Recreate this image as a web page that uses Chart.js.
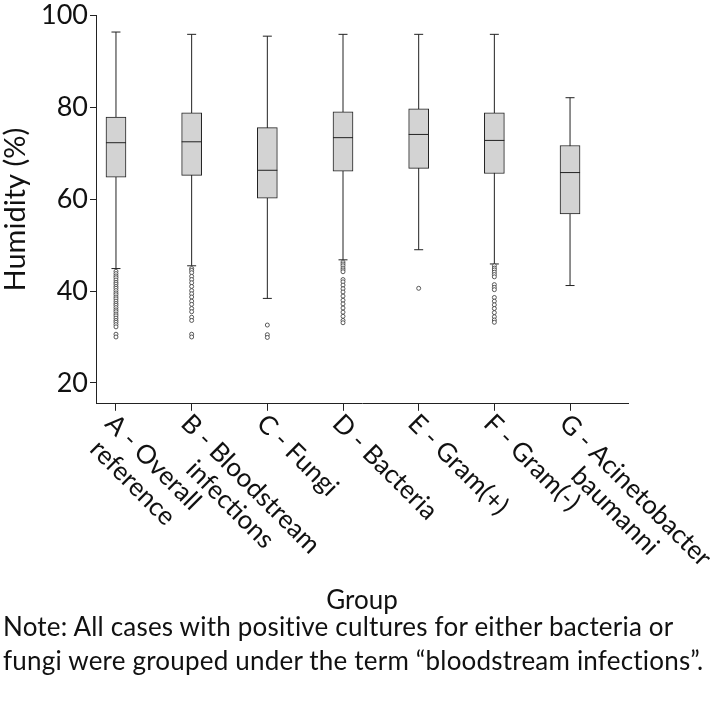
<!DOCTYPE html>
<html><head><meta charset="utf-8">
<script src="https://cdn.jsdelivr.net/npm/chart.js@4"></script>
<style>
html,body{margin:0;padding:0;background:#fff;}
#wrap{position:relative;width:715px;height:702px;overflow:hidden;}
#note{position:absolute;left:3px;top:609px;font-family:Lato,sans-serif;font-size:26px;letter-spacing:0.2px;line-height:34px;color:#111;white-space:nowrap;}
</style></head><body>
<div id="wrap"><canvas id="c" width="715" height="702"></canvas>
<div id="note">Note: All cases with positive cultures for either bacteria or<br>fungi were grouped under the term “bloodstream infections”.</div></div>
<script>
const categories = [['A - Overall','reference'],['B - Bloodstream','infections'],['C - Fungi'],['D - Bacteria'],['E - Gram(+)'],['F - Gram(-)'],['G - Acinetobacter','baumanni']];
const whiskerHigh = [96.4, 95.9, 95.5, 95.9, 95.9, 95.9, 82.1];
const q3 = [77.9, 78.8, 75.6, 79.0, 79.7, 78.8, 71.7];
const medians = [72.3, 72.5, 66.3, 73.4, 74.1, 72.8, 65.8];
const q1 = [64.8, 65.2, 60.2, 66.1, 66.7, 65.6, 56.8];
const whiskerLow = [44.9, 45.5, 38.4, 46.8, 49.0, 45.9, 41.2];
const outliersA = [44.3, 43.8, 43.3, 42.9, 42.4, 41.9, 41.5, 41.0, 40.6, 40.1, 39.6, 39.2, 38.7, 38.3, 37.8, 37.3, 36.9, 36.4, 35.9, 35.5, 35.0, 34.6, 34.1, 33.6, 33.2, 32.7, 32.2, 30.6, 30.0];
const outliersB = [44.9, 44.5, 44.0, 43.2, 42.5, 41.8, 41.0, 40.1, 39.4, 38.7, 37.8, 37.1, 36.2, 35.5, 34.3, 33.6, 30.6, 30.0];
const outliersC = [32.6, 30.5, 29.9];
const outliersD = [46.3, 45.9, 45.5, 45.0, 44.6, 44.2, 42.5, 42.0, 41.3, 40.5, 39.8, 38.9, 38.0, 37.2, 36.3, 35.4, 34.5, 33.6, 33.1];
const outliersE = [40.6];
const outliersF = [45.5, 45.0, 44.6, 44.1, 43.6, 43.1, 41.4, 40.8, 40.3, 38.6, 37.8, 37.0, 36.2, 35.3, 34.4, 33.7, 33.2];
const outliersG = [];
const outliers = [outliersA, outliersB, outliersC, outliersD, outliersE, outliersF, outliersG];
const yTicks = [20, 40, 60, 80, 100];

const idx = categories.map((_, i) => i);
const boxData = idx.map(i => ({x: i, y: [q1[i], q3[i]]}));
const whiskerData = idx.flatMap(i => [{x: i, y: whiskerLow[i]}, {x: i, y: whiskerHigh[i]}, {x: i, y: null}]);
const medianData = idx.map(i => ({x: i, y: medians[i]}));
const capData = idx.flatMap(i => [{x: i, y: whiskerLow[i]}, {x: i, y: whiskerHigh[i]}]);
const outlierData = idx.flatMap(i => outliers[i].map(v => ({x: i, y: v})));

const INK = '#222';
const labelPlugin = {
  id: 'rotLabels',
  afterDraw(chart) {
    const ctx = chart.ctx, xs = chart.scales.x, base = chart.chartArea.bottom;
    ctx.save();
    ctx.font = '26px Lato';
    ctx.fillStyle = '#111';
    ctx.textBaseline = 'top';
    ctx.textAlign = 'left';
    categories.forEach((lines, i) => {
      const px = xs.getPixelForValue(i);
      const widths = lines.map(l => ctx.measureText(l).width);
      const W = Math.max(...widths);
      ctx.save();
      ctx.translate(px + 3, base + 6);
      ctx.rotate(Math.PI / 4);
      lines.forEach((l, j) => ctx.fillText(l, (W - widths[j]) / 2, j * 29));
      ctx.restore();
    });
    ctx.restore();
  }
};

function draw() {
  new Chart(document.getElementById('c'), {
    type: 'bar',
    data: {
      datasets: [
        {type: 'line', data: whiskerData, borderColor: INK, borderWidth: 1, pointRadius: 0, spanGaps: false, fill: false, order: 4},
        {type: 'bar', data: boxData, backgroundColor: '#d3d3d3', borderColor: INK, borderWidth: 1, borderSkipped: false, barThickness: 20, grouped: false, order: 3},
        {type: 'scatter', data: medianData, pointStyle: 'line', pointRadius: 10, borderColor: INK, borderWidth: 1, order: 2},
        {type: 'scatter', data: capData, pointStyle: 'line', pointRadius: 4.5, borderColor: INK, borderWidth: 1, order: 2},
        {type: 'scatter', data: outlierData, pointStyle: 'circle', pointRadius: 2, borderColor: '#333', backgroundColor: '#fff', borderWidth: 0.8, order: 1}
      ]
    },
    options: {
      responsive: false, animation: false, devicePixelRatio: 1,
      layout: {padding: {left: 0, right: 87, top: 0, bottom: 86}},
      plugins: {legend: {display: false}, tooltip: {enabled: false}},
      scales: {
        x: {
          type: 'linear', min: -0.264, max: 6.766, offset: false,
          afterBuildTicks: s => { s.ticks = idx.map(v => ({value: v})); },
          ticks: {display: false},
          grid: {display: true, offset: false, drawOnChartArea: false, drawTicks: true, tickLength: 7, color: INK},
          border: {display: true, color: INK, width: 1},
          title: {display: true, text: 'Group', color: '#111', font: {family: 'Lato', size: 26, lineHeight: 1.2}, padding: {top: 174, bottom: 0}}
        },
        y: {
          min: 15.45, max: 100, beginAtZero: false,
          afterBuildTicks: s => { s.ticks = yTicks.map(v => ({value: v})); },
          afterFit: s => { s.width = 96; },
          ticks: {color: '#111', font: {family: 'Lato', size: 27, lineHeight: 1}, padding: 2},
          grid: {drawOnChartArea: false, drawTicks: true, tickLength: 6, color: INK},
          border: {display: true, color: INK, width: 1},
          title: {display: true, text: 'Humidity (%)', color: '#111', font: {family: 'Lato', size: 29, lineHeight: 1}, padding: {top: 1, bottom: 0}}
        }
      }
    },
    plugins: [labelPlugin]
  });
}
if (document.fonts && document.fonts.load) {
  document.fonts.load('26px Lato').then(draw, draw);
} else { draw(); }
</script>
</body></html>
